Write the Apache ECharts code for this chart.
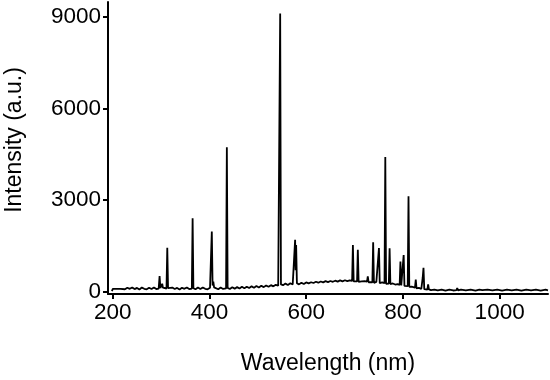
<!DOCTYPE html>
<html>
<head>
<meta charset="utf-8">
<script src="https://cdn.jsdelivr.net/npm/echarts@6/dist/echarts.min.js"></script>
<style>
html,body{margin:0;padding:0;background:#fff;}
#chart{width:550px;height:380px;}
</style>
</head>
<body>
<div id="chart"></div>
<script>
// Wavelength (nm) and intensity (a.u.)
const wavelength = [
  198, 200, 204, 208, 212, 216, 220, 225, 230, 235,
  240, 245, 250, 255, 260, 265, 270, 275, 280, 285,
  290, 294.8, 296.7, 298.3, 300.6, 302.1, 303.6, 306, 311, 312.6,
  314.2, 318, 323, 328, 333, 338, 343, 348, 353, 358,
  363.4, 365.0, 366.6, 371, 376, 381, 386, 391, 396, 401,
  403.1, 404.7, 406.3, 407.8, 409.4, 413, 418, 423, 428, 434.2,
  435.8, 437.4, 442, 447, 452, 457, 462, 467, 472, 477,
  482, 487, 492, 497, 502, 507, 512, 517, 522, 527,
  532, 537, 542, 544.5, 546.1, 547.7, 552, 557, 562, 567,
  572, 575.4, 577.0, 578.0, 579.1, 580.7, 585, 590, 595, 600,
  605, 610, 615, 620, 625, 630, 635, 640, 645, 650,
  655, 660, 665, 670, 675, 680, 685, 690, 694.9, 696.5,
  698.1, 702, 705.1, 706.7, 708.3, 712, 714.5, 716.0, 717.5, 721,
  725.7, 727.3, 728.9, 733, 736.8, 738.4, 740.0, 745, 748.8, 750.4,
  752.0, 757, 761.9, 763.5, 765.1, 769, 770.8, 772.4, 774.0, 779,
  784, 789, 793.2, 794.8, 796.5, 799.9, 801.5, 803.1, 807, 809.9,
  811.5, 813.1, 818, 822, 824.9, 826.5, 828.1, 833, 838, 840.8,
  841.6, 842.5, 844.1, 848, 850.5, 852.1, 853.7, 858, 865, 872,
  880, 888, 896, 904, 910.7, 912.3, 913.9, 920, 930, 940,
  950, 958, 964.2, 965.8, 967.4, 975, 985, 995, 1005, 1015,
  1025, 1035, 1045, 1055, 1065, 1075, 1085, 1095, 1100
];
const intensity = [
  20, 90, 130, 95, 135, 90, 125, 80, 130, 95,
  140, 85, 125, 75, 135, 95, 80, 130, 90, 140,
  85, 100, 512, 120, 90, 260, 130, 85, 105, 1434,
  120, 80, 135, 90, 125, 75, 130, 95, 140, 85,
  104, 2400, 115, 80, 135, 90, 140, 95, 80, 130,
  120, 1970, 200, 330, 140, 95, 80, 135, 90, 108,
  4730, 125, 90, 145, 100, 150, 105, 160, 115, 165,
  120, 175, 130, 185, 140, 195, 150, 205, 160, 215,
  175, 225, 195, 210, 9100, 240, 215, 265, 220, 275,
  235, 255, 1700, 700, 1530, 280, 240, 295, 250, 305,
  275, 310, 285, 325, 295, 335, 305, 345, 315, 350,
  325, 360, 330, 370, 340, 375, 345, 370, 355, 1530,
  335, 365, 340, 1370, 325, 355, 335, 400, 320, 345,
  330, 500, 310, 335, 310, 1620, 290, 320, 295, 1430,
  280, 305, 280, 4410, 260, 290, 268, 1420, 250, 270,
  235, 250, 225, 990, 205, 225, 1200, 190, 205, 185,
  3120, 160, 165, 130, 135, 400, 110, 125, 90, 450,
  600, 780, 85, 95, 70, 240, 75, 50, 70, 40,
  70, 35, 65, 40, 52, 120, 45, 70, 40, 65,
  35, 70, 52, 90, 45, 65, 40, 70, 35, 65,
  40, 70, 35, 68, 40, 70, 38, 65, 45
];
const xTicks = [200, 400, 600, 800, 1000];
const yTicks = [0, 3000, 6000, 9000];

const seriesData = wavelength.map((w, i) => [w, intensity[i]]);
const font = "'Liberation Sans', Arial, Helvetica, sans-serif";

const chart = echarts.init(document.getElementById('chart'), null, {renderer: 'canvas'});
chart.setOption({
  animation: false,
  backgroundColor: '#ffffff',
  grid: {left: 108, right: 2, top: 2, bottom: 85, containLabel: false},
  xAxis: {
    type: 'value',
    min: 190,
    max: 1100,
    name: 'Wavelength (nm)',
    nameLocation: 'middle',
    nameGap: 58,
    nameTextStyle: {fontSize: 23, fontFamily: font, color: '#000'},
    splitLine: {show: false},
    axisLine: {show: true, onZero: false, lineStyle: {color: '#000', width: 2}},
    axisTick: {show: true, length: 5, lineStyle: {color: '#000', width: 2}, customValues: xTicks},
    axisLabel: {fontSize: 22.5, fontFamily: font, color: '#000', margin: 7, customValues: xTicks, formatter: v => String(v)}
  },
  yAxis: {
    type: 'value',
    min: -75,
    max: 9480,
    splitLine: {show: false},
    axisLine: {show: true, onZero: false, lineStyle: {color: '#000', width: 2}},
    axisTick: {show: true, length: 5, lineStyle: {color: '#000', width: 2}, customValues: yTicks},
    axisLabel: {fontSize: 22.5, fontFamily: font, color: '#000', margin: 7, customValues: yTicks, formatter: v => String(v)}
  },
  graphic: [{
    type: 'text',
    x: 15,
    y: 140,
    rotation: Math.PI / 2,
    style: {
      text: 'Intensity (a.u.)',
      fontSize: 23,
      fontFamily: font,
      fill: '#000',
      align: 'center',
      verticalAlign: 'middle',
      textAlign: 'center',
      textVerticalAlign: 'middle'
    }
  }],
  series: [{
    type: 'line',
    data: seriesData,
    showSymbol: false,
    symbol: 'none',
    lineStyle: {color: '#000', width: 1.8},
    clip: true
  }]
});
</script>
</body>
</html>
